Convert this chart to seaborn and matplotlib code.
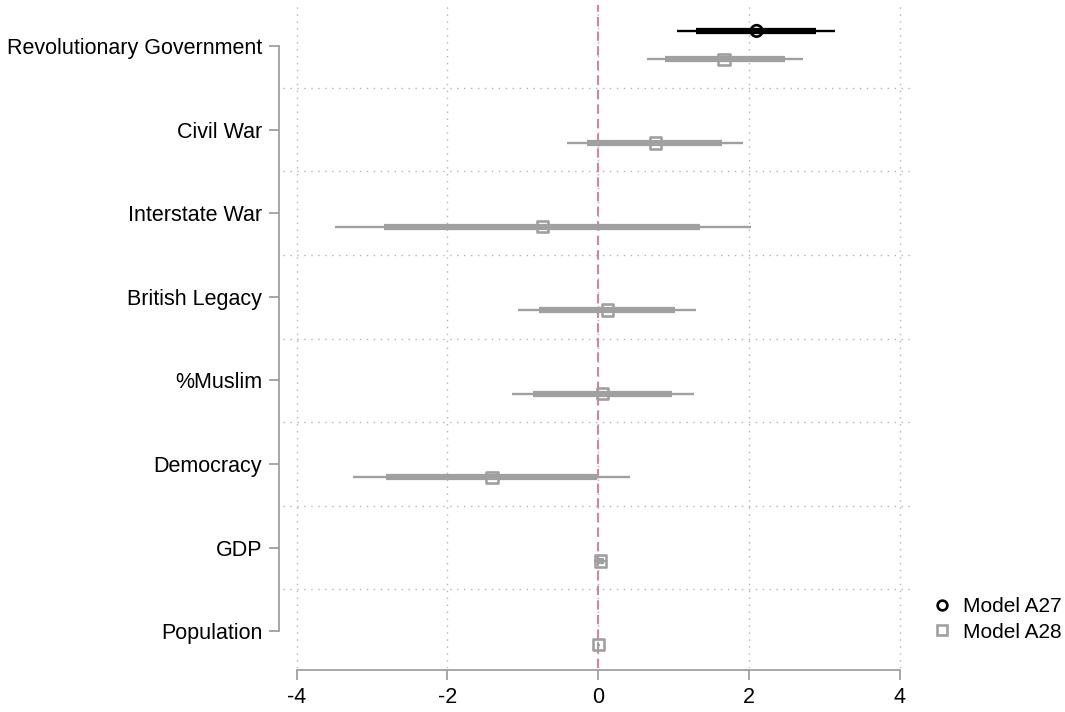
import matplotlib
matplotlib.use("Agg")
import matplotlib.pyplot as plt
import numpy as np
import pandas as pd
import seaborn as sns

# Coefficient estimates with 90% (thick) and 95% (thin) intervals
variables = ["Revolutionary Government", "Civil War", "Interstate War", "British Legacy",
             "%Muslim", "Democracy", "GDP", "Population"]

a27_var = ["Revolutionary Government"]
a27_est = [2.10]
a27_lo90 = [1.29]
a27_hi90 = [2.89]
a27_lo95 = [1.05]
a27_hi95 = [3.14]

a28_est = [1.67, 0.76, -0.74, 0.12, 0.06, -1.41, 0.03, 0.00]
a28_lo90 = [0.89, -0.15, -2.84, -0.78, -0.86, -2.81, -0.02, -0.01]
a28_hi90 = [2.47, 1.64, 1.35, 1.02, 0.98, -0.01, 0.08, 0.01]
a28_lo95 = [0.64, -0.41, -3.49, -1.06, -1.14, -3.25, -0.05, -0.02]
a28_hi95 = [2.71, 1.92, 2.02, 1.30, 1.27, 0.42, 0.11, 0.02]

models = ["Model A27", "Model A28"]
colors = {"Model A27": "#000000", "Model A28": "#a0a0a0"}
markers = {"Model A27": "o", "Model A28": "s"}
dodge = {"Model A27": -0.18, "Model A28": 0.16}

rows = []
for i, v in enumerate(a27_var):
    rows.append(dict(model="Model A27", var=v, est=a27_est[i], lo90=a27_lo90[i], hi90=a27_hi90[i],
                     lo95=a27_lo95[i], hi95=a27_hi95[i]))
for i, v in enumerate(variables):
    rows.append(dict(model="Model A28", var=v, est=a28_est[i], lo90=a28_lo90[i], hi90=a28_hi90[i],
                     lo95=a28_lo95[i], hi95=a28_hi95[i]))
df = pd.DataFrame(rows)
df["ypos"] = df["var"].map({v: i for i, v in enumerate(variables)}) + df["model"].map(dodge)

sns.set_theme(style="white")
plt.rcParams["font.family"] = ["Liberation Sans", "DejaVu Sans"]
plt.rcParams["text.color"] = "black"

fig = plt.figure(figsize=(10.65, 7.12), dpi=100)
ax = fig.add_axes([283 / 1065, 1 - 668 / 712, 632 / 1065, 663 / 712])

grid_kw = dict(color="#b4b4b4", lw=1.0, linestyle=(0, (1, 4)), zorder=0)
for xv in [-4, -2, 0, 2, 4]:
    ax.axvline(xv, **grid_kw)
for k in range(len(variables) - 1):
    ax.axhline(k + 0.5, **grid_kw)

ax.axvline(0, color="#d084ac", lw=1.5, linestyle=(0, (4.5, 2.5)), zorder=1)

for m in models:
    sub = df[df["model"] == m]
    ax.hlines(sub["ypos"], sub["lo95"], sub["hi95"], color=colors[m], lw=1.7, zorder=2)
    ax.hlines(sub["ypos"], sub["lo90"], sub["hi90"], color=colors[m], lw=4.5, zorder=3)

sns.scatterplot(data=df, x="est", y="ypos", hue="model", style="model",
                palette=colors, markers=markers, hue_order=models, style_order=models,
                s=68, linewidth=1.9, zorder=4, ax=ax, legend=False)
# open markers: move the fill colour to the edge
for c in ax.collections:
    fc = c.get_facecolors()
    if len(fc):
        c.set_edgecolors(fc)
        c.set_facecolors("none")

ax.set_xlim(-4.18, 4.2)
ax.set_ylim(7.44, -0.49)
ax.set_xticks([-4, -2, 0, 2, 4])
ax.set_xticklabels(["-4", "-2", "0", "2", "4"])
ax.set_yticks(range(len(variables)))
ax.set_yticklabels(variables)
ax.set_xlabel("")
ax.set_ylabel("")

for side in ["top", "right"]:
    ax.spines[side].set_visible(False)
ax.spines["left"].set_bounds(0, len(variables) - 1)
ax.spines["bottom"].set_bounds(-4, 4)
ax.spines["left"].set_position(("outward", 3))
ax.spines["bottom"].set_position(("outward", 1.5))
for side in ["left", "bottom"]:
    ax.spines[side].set_color("#a0a0a0")
    ax.spines[side].set_linewidth(1.3)

ax.tick_params(axis="both", which="major", length=7, width=1.3, color="#a0a0a0",
               labelsize=15.5, labelcolor="black", left=True, bottom=True)
ax.tick_params(axis="y", pad=5)
ax.tick_params(axis="x", pad=5)

handles = [plt.Line2D([], [], linestyle="none", marker=markers[m], markersize=7,
                      markerfacecolor="none", markeredgecolor=colors[m], markeredgewidth=1.9)
           for m in models]
leg = ax.legend(handles, models, loc="center left", bbox_to_anchor=(1.0, 0.073), frameon=False,
                fontsize=15, handlelength=0.8, handletextpad=0.6, labelspacing=0.3,
                borderaxespad=0.5)
for t in leg.get_texts():
    t.set_color("black")

fig.savefig("out.png", dpi=100)
